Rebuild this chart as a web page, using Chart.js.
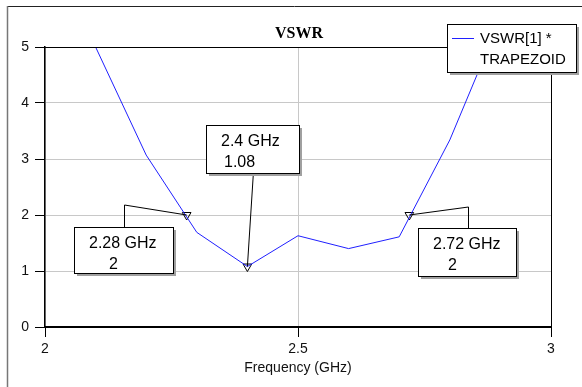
<!DOCTYPE html>
<html>
<head>
<meta charset="utf-8">
<script src="https://cdn.jsdelivr.net/npm/chart.js@4/dist/chart.umd.min.js"></script>
<style>
  html, body { margin: 0; padding: 0; background: #fff; }
</style>
</head>
<body>
<canvas id="vswrChart" width="582" height="387"></canvas>
<script>
// sweep data
const freqs = [2.0, 2.1, 2.2, 2.3, 2.4, 2.5, 2.6, 2.7, 2.8, 2.9, 3.0];
const vswr = [7.0, 5.0, 3.07, 1.69, 1.08, 1.63, 1.40, 1.61, 3.34, 5.5, 7.6];

// markers
const markerFreqs = [2.28, 2.4, 2.72];
const markerVswr = [2, 1.08, 2];

const xTicks = [2, 2.5, 3];
const yTicks = [0, 1, 2, 3, 4, 5];
const seriesName = ['VSWR[1] *', 'TRAPEZOID'];
const chartTitle = 'VSWR';

// marker box placement, pixels relative to the marker
const boxLayout = [
  { dx: -113, dy: 12, w: 99, h: 46, kneeX: -63, kneeY: -10, valIndent: 35 },
  { dx: -41, dy: -142, w: 93, h: 48, kneeX: 6, kneeY: null, valIndent: 18 },
  { dx: 9, dy: 13, w: 98, h: 48, kneeX: 59, kneeY: -8, valIndent: 30 }
];

function shadowBox(ctx, x, y, w, h) {
  ctx.fillStyle = '#a0a0a0';
  ctx.fillRect(x + 3, y + 3, w, h);
  ctx.fillStyle = '#ffffff';
  ctx.fillRect(x, y, w, h);
  ctx.strokeStyle = '#000';
  ctx.lineWidth = 1;
  ctx.strokeRect(x + 0.5, y + 0.5, w, h);
}

const decor = {
  id: 'decor',
  beforeDraw(chart) {
    const ctx = chart.ctx;
    ctx.save();
    ctx.fillStyle = '#fff';
    ctx.fillRect(0, 0, chart.width, chart.height);
    ctx.lineWidth = 1;
    ctx.strokeStyle = '#222';
    ctx.beginPath();
    ctx.moveTo(7, 6.5);
    ctx.lineTo(chart.width, 6.5);
    ctx.stroke();
    ctx.strokeStyle = '#777';
    ctx.lineWidth = 1.5;
    ctx.beginPath();
    ctx.moveTo(7.5, 6);
    ctx.lineTo(7.5, chart.height);
    ctx.stroke();
    ctx.restore();
  },
  afterDatasetsDraw(chart) {
    const ctx = chart.ctx;
    const a = chart.chartArea;
    const xs = chart.scales.x, ys = chart.scales.y;
    ctx.save();

    // top and right frame
    ctx.strokeStyle = '#000';
    ctx.lineWidth = 1;
    ctx.beginPath();
    ctx.moveTo(a.left, a.top + 0.5);
    ctx.lineTo(a.right + 0.5, a.top + 0.5);
    ctx.lineTo(a.right + 0.5, a.bottom);
    ctx.stroke();

    // title
    ctx.fillStyle = '#000';
    ctx.font = 'bold 16px "Liberation Serif", serif';
    ctx.textAlign = 'center';
    ctx.textBaseline = 'alphabetic';
    ctx.fillText(chartTitle, (a.left + a.right) / 2 + 1, 38);

    // marker annotations
    ctx.textAlign = 'left';
    ctx.font = '16px "Liberation Sans", Arial, sans-serif';
    markerFreqs.forEach((f, i) => {
      const px = xs.getPixelForValue(f);
      const py = ys.getPixelForValue(markerVswr[i]);
      const b = boxLayout[i];
      const bx = Math.round(px + b.dx), by = Math.round(py + b.dy);
      ctx.strokeStyle = '#000';
      ctx.lineWidth = 1;
      ctx.beginPath();
      if (b.kneeY !== null) {
        const kx = Math.round(px + b.kneeX) + 0.5;
        ctx.moveTo(kx, by);
        ctx.lineTo(kx, py + b.kneeY);
        ctx.lineTo(px, py);
      } else {
        ctx.moveTo(px + b.kneeX, by + b.h);
        ctx.lineTo(px, py);
      }
      ctx.stroke();
      shadowBox(ctx, bx, by, b.w, b.h);
      ctx.fillStyle = '#000';
      ctx.fillText(f + ' GHz', bx + 15, by + 21);
      ctx.fillText(String(markerVswr[i]), bx + b.valIndent, by + 42);
    });

    // legend
    ctx.font = '15px "Liberation Sans", Arial, sans-serif';
    const lx = a.right - 104, ly = a.top - 23;
    shadowBox(ctx, lx, ly, 129, 48);
    ctx.strokeStyle = '#2020ff';
    ctx.beginPath();
    ctx.moveTo(lx + 5, ly + 14.5);
    ctx.lineTo(lx + 27, ly + 14.5);
    ctx.stroke();
    ctx.fillStyle = '#000';
    ctx.fillText(seriesName[0], lx + 33, ly + 19);
    ctx.fillText(seriesName[1], lx + 33, ly + 40);
    ctx.restore();
  }
};

const ctx = document.getElementById('vswrChart').getContext('2d');

new Chart(ctx, {
  type: 'scatter',
  data: {
    datasets: [
      {
        label: seriesName.join(' '),
        data: freqs.map((f, i) => ({ x: f, y: vswr[i] })),
        showLine: true,
        borderColor: '#2020ff',
        borderWidth: 1,
        pointRadius: 0,
        fill: false
      },
      {
        label: 'markers',
        data: markerFreqs.map((f, i) => ({ x: f, y: markerVswr[i] })),
        showLine: false,
        pointStyle: 'triangle',
        rotation: 180,
        pointRadius: 5,
        pointBorderColor: '#000',
        pointBackgroundColor: 'rgba(0,0,0,0)',
        pointBorderWidth: 1,
        clip: false
      }
    ]
  },
  options: {
    responsive: false,
    animation: false,
    events: [],
    layout: { padding: { top: 47, right: 31, left: 0, bottom: 0 } },
    plugins: {
      legend: { display: false },
      title: { display: false },
      tooltip: { enabled: false }
    },
    scales: {
      x: {
        type: 'linear',
        min: 2,
        max: 3,
        afterBuildTicks: s => { s.ticks = xTicks.map(v => ({ value: v })); },
        afterFit: s => { s.height = 60; },
        grid: { color: '#c8c8c8', tickColor: '#000', tickLength: 10, lineWidth: 1 },
        border: { color: '#000', width: 2 },
        ticks: {
          color: '#111',
          padding: 4,
          maxRotation: 0,
          callback: v => String(v),
          font: { family: '"Liberation Sans", Arial, sans-serif', size: 14 }
        },
        title: {
          display: true,
          text: 'Frequency (GHz)',
          color: '#111',
          padding: { top: 0, bottom: 10 },
          font: { family: '"Liberation Sans", Arial, sans-serif', size: 14 }
        }
      },
      y: {
        min: 0,
        max: 5,
        afterBuildTicks: s => { s.ticks = yTicks.map(v => ({ value: v })); },
        afterFit: s => { s.width = 45; },
        grid: { color: '#c8c8c8', tickColor: '#000', tickLength: 10, lineWidth: 1 },
        border: { color: '#000', width: 1.5 },
        ticks: {
          color: '#111',
          padding: 6,
          callback: v => String(v),
          font: { family: '"Liberation Sans", Arial, sans-serif', size: 14 }
        }
      }
    }
  },
  plugins: [decor]
});
</script>
</body>
</html>
